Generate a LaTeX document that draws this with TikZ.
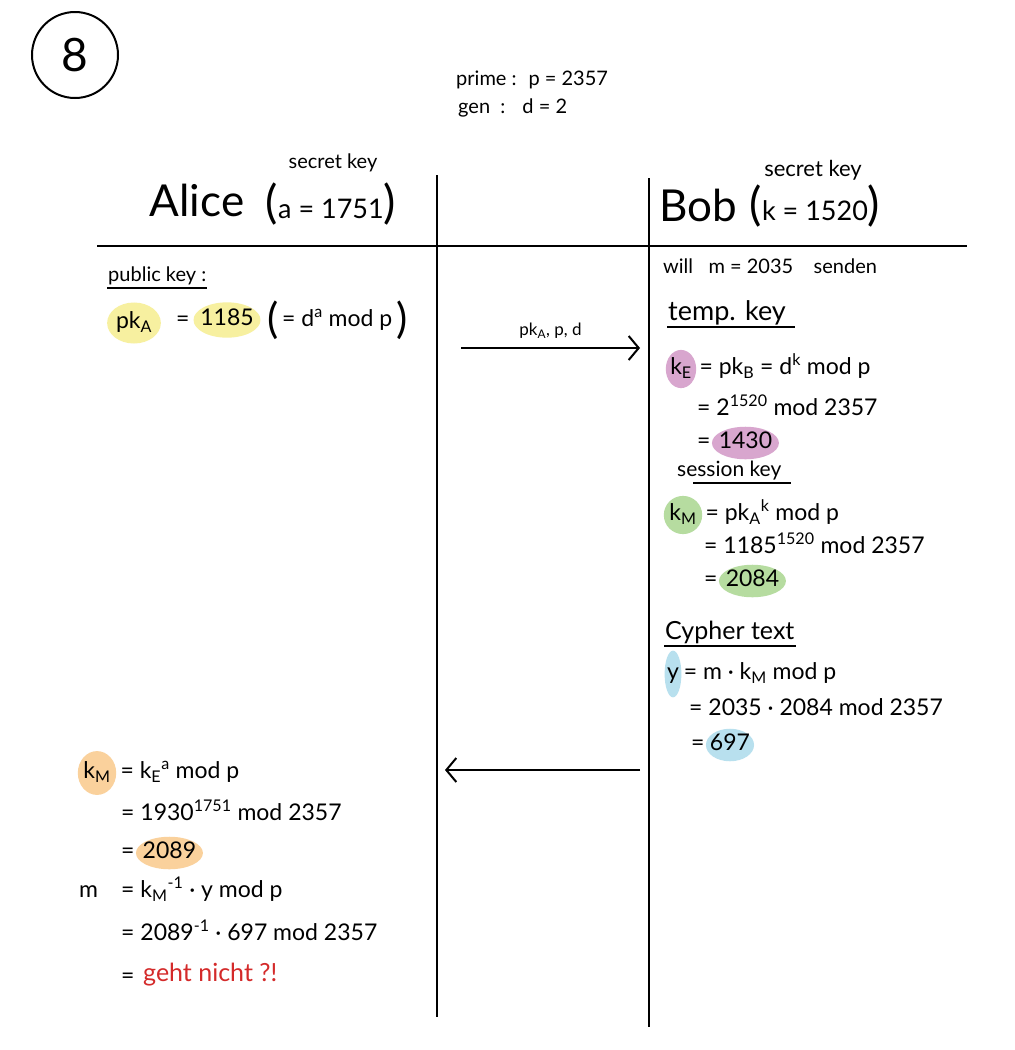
\documentclass[tikz,border=0pt]{standalone}
\usepackage{fontspec}
\setmainfont{Lato}
\usetikzlibrary{shapes.geometric,arrows.meta,positioning}
\definecolor{hlyellow}{HTML}{F7F0A0}
\definecolor{hlpurple}{HTML}{D8A6CE}
\definecolor{hlgreen}{HTML}{B6DCA0}
\definecolor{hlblue}{HTML}{B8E0EE}
\definecolor{hlorange}{HTML}{FAD19C}
\definecolor{warnred}{HTML}{D42A2A}
\newcommand{\bigp}[1]{\raisebox{-7pt}{\fontsize{42}{42}\selectfont #1}}
\newcommand{\hdp}[1]{{\fontsize{46}{46}\selectfont #1}}
\tikzset{
  txt/.style={anchor=west,inner sep=1pt,text height=16pt,text depth=5pt,font=\fontsize{23}{26}\selectfont},
  small/.style={anchor=west,inner sep=1pt,font=\fontsize{20}{23}\selectfont},
  hl/.style={ellipse,fill=#1,inner xsep=-3pt,inner ysep=1pt,text height=16pt,text depth=5pt,font=\fontsize{23}{26}\selectfont},
  heading/.style={anchor=west,inner sep=1pt,font=\fontsize{25}{28}\selectfont},
  big/.style={inner sep=1pt,font=\fontsize{44}{48}\selectfont},
  keyhead/.style={inner sep=1pt,font=\fontsize{27}{30}\selectfont},
  rule/.style={line width=2pt},
  uline/.style={line width=2pt},
  msg/.style={line width=2pt,-{Straight Barb[length=10pt,width=24pt,line width=2pt]}}
}
\begin{document}
\begin{tikzpicture}[x=1pt,y=-1pt]
\useasboundingbox[fill=white] (0,0) rectangle (1015,1050);

% number circle
\node[circle,draw,line width=2pt,minimum size=86pt,inner sep=0pt,font=\fontsize{46}{46}\selectfont] (num) at (75,55) {8};

% parameters
\node[small] (prime) at (455,80) {prime : \ p = 2357};
\node[small] (gen) at (457,108) {gen \ : \ \ d = 2};

% frame lines
\coordinate (lt) at (437,175); \coordinate (lb) at (437,1017);
\coordinate (rt) at (649,178); \coordinate (rb) at (649,1027);
\coordinate (hl) at (97,246); \coordinate (hr) at (967,246);
\draw[rule] (lt) -- (lb);
\draw[rule] (rt) -- (rb);
\draw[rule] (hl) -- (hr);

% headers
\node[big] (alice) at (197,200) {Alice};
\node[keyhead] (akey) at (331,204) {\hdp{(}a = 1751\hdp{)}};
\node[small,anchor=center] (asec) at (333,163) {secret key};
\node[big] (bob) at (698,205) {Bob};
\node[keyhead] (bkey) at (815,206) {\hdp{(}k = 1520\hdp{)}};
\node[small,anchor=center,font=\fontsize{22}{24}\selectfont] (bsec) at (813,170) {secret key};

% Alice public key
\node[small] (pub) at (107,276) {public key :};
\draw[uline] ([yshift=-2pt]pub.south west) -- ([yshift=-2pt]pub.south east);
\node[hl=hlyellow,inner xsep=1pt,inner ysep=4pt] (pkA) at (134,323) {pk\textsubscript{A}};
\node[txt] (eqA) at (175,321) {=};
\node[hl=hlyellow,inner ysep=2pt] (v1185) at (227,320) {1185};
\node[txt] (pkdef) at (266,321) {\bigp{(}\,= d\textsuperscript{a} mod p\,\bigp{)}};

% message 1
\coordinate (m1s) at (461,348); \coordinate (m1e) at (640,348);
\draw[msg] (m1s) -- (m1e) node[midway,above=5pt,font=\fontsize{17}{19}\selectfont] (m1lab) {pk\textsubscript{A}, p, d};

% Bob side
\node[small] (will) at (662,266) {will \ \ m = 2035 \ \ \ senden};
\node[heading,font=\fontsize{27}{30}\selectfont] (temp) at (667,313) {temp. key};
\draw[uline] ([yshift=-1pt]temp.south west) -- ([yshift=-1pt,xshift=8pt]temp.south east);
\node[hl=hlpurple,inner xsep=0pt,inner ysep=3pt] (kE) at (681,369) {k\textsubscript{E}};
\node[txt] (kEdef) at ([xshift=2pt]kE.east) {= pk\textsubscript{B} = d\textsuperscript{k} mod p};
\node[txt] (kEcalc) at (696,410) {= 2\textsuperscript{1520} mod 2357};
\node[txt] (kEeq) at (696,443) {=};
\node[hl=hlpurple] (v1430) [right=0pt of kEeq] {1430};

\node[small,font=\fontsize{21}{23}\selectfont] (sess) at (676,471) {session key};
\draw[uline] ([yshift=-1pt,xshift=17pt]sess.south west) -- ([yshift=-1pt,xshift=8pt]sess.south east);
\node[hl=hlgreen,inner xsep=0pt,inner ysep=3pt] (kMb) at (683,515) {k\textsubscript{M}};
\node[txt] (kMdef) at ([xshift=2pt]kMb.east) {= pk\textsubscript{A}\textsuperscript{k} mod p};
\node[txt] (kMcalc) at (703,548) {= 1185\textsuperscript{1520} mod 2357};
\node[txt] (kMeq) at (703,581) {=};
\node[hl=hlgreen] (v2084) [right=0pt of kMeq] {2084};

\node[heading] (cyph) at (664,632) {Cypher text};
\draw[uline] ([yshift=-1pt]cyph.south west) -- ([yshift=-1pt]cyph.south east);
\node[hl=hlblue,inner xsep=0pt,inner ysep=6pt] (yb) at (673,674) {y};
\node[txt] (ydef) at ([xshift=1pt]yb.east) {= m · k\textsubscript{M} mod p};
\node[txt] (ycalc) at (688,710) {= 2035 · 2084 mod 2357};
\node[txt] (yeq) at (690,745) {=};
\node[hl=hlblue] (v697) [right=0pt of yeq] {697};

% message 2
\coordinate (m2s) at (640,770); \coordinate (m2e) at (445,770);
\draw[msg] (m2s) -- (m2e);

% Alice decryption
\node[hl=hlorange,inner xsep=0pt,inner ysep=5pt] (kMa) at (97,773) {k\textsubscript{M}};
\node[txt] (kMadef) at ([xshift=3pt]kMa.east) {= k\textsubscript{E}\textsuperscript{a} mod p};
\node[txt] (kMacalc) at (120,815) {= 1930\textsuperscript{1751} mod 2357};
\node[txt] (kMaeq) at (120,853) {=};
\node[hl=hlorange] (v2089) [right=0pt of kMaeq] {2089};
\node[txt] (mvar) at (78,892) {m};
\node[txt] (mdef) at (120,892) {= k\textsubscript{M}\textsuperscript{-1} · y mod p};
\node[txt] (mcalc) at (120,935) {= 2089\textsuperscript{-1} · 697 mod 2357};
\node[txt] (meq) at (120,978) {=};
\node[txt,text=warnred,font=\fontsize{25}{28}\selectfont] (fail) at (142,976) {geht nicht ?!};
\end{tikzpicture}
\end{document}
